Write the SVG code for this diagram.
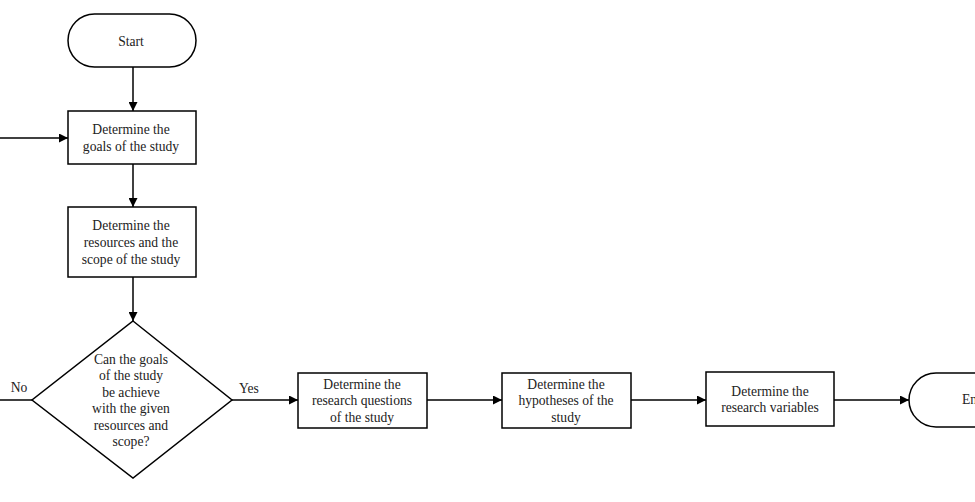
<svg xmlns="http://www.w3.org/2000/svg" width="975" height="502" viewBox="0 0 975 502">
<style>
.shape{fill:#fff;stroke:#000;stroke-width:1.5}
.t{font-family:"Liberation Serif","Times New Roman",serif;font-size:13.6px;fill:#222;text-anchor:middle}
.c{fill:none;stroke:#000;stroke-width:1.5}
</style>
<defs>
<marker id="ah" viewBox="0 0 10 10" refX="10" refY="5" markerWidth="10" markerHeight="9" markerUnits="userSpaceOnUse" orient="auto">
<path d="M0,0 L10,5 L0,10 z" fill="#000"/>
</marker>
</defs>
<rect width="975" height="502" fill="#fff"/>
<g id="connectors">
<line class="c" x1="133" y1="67" x2="133" y2="111" marker-end="url(#ah)"/>
<line class="c" x1="0" y1="138" x2="68" y2="138" marker-end="url(#ah)"/>
<line class="c" x1="133" y1="164" x2="133" y2="207" marker-end="url(#ah)"/>
<line class="c" x1="133" y1="277" x2="133" y2="321" marker-end="url(#ah)"/>
<line class="c" x1="32" y1="400" x2="0" y2="400"/>
<line class="c" x1="232" y1="400" x2="298" y2="400" marker-end="url(#ah)"/>
<line class="c" x1="427" y1="400" x2="502" y2="400" marker-end="url(#ah)"/>
<line class="c" x1="631" y1="400" x2="706" y2="400" marker-end="url(#ah)"/>
<line class="c" x1="834" y1="400" x2="909" y2="400" marker-end="url(#ah)"/>
<text class="t" x="19" y="392">No</text>
<text class="t" x="249" y="393">Yes</text>
</g>
<g id="start">
<rect class="shape" x="68" y="14" width="128" height="53" rx="26.5" ry="26.5"/>
<text class="t" x="131" y="46">Start</text>
</g>
<g id="goals">
<rect class="shape" x="68" y="111" width="128" height="53"/>
<text class="t" x="131" y="134">Determine the</text>
<text class="t" x="131" y="151">goals of the study</text>
</g>
<g id="resources">
<rect class="shape" x="68" y="207" width="128" height="70"/>
<text class="t" x="131" y="230">Determine the</text>
<text class="t" x="131" y="247">resources  and the</text>
<text class="t" x="131" y="264">scope of the study</text>
</g>
<g id="decision">
<polygon class="shape" points="133,321 232,400 133,478 32,400"/>
<text class="t" x="131" y="364">Can the goals</text>
<text class="t" x="131" y="380">of the study</text>
<text class="t" x="131" y="397">be achieve</text>
<text class="t" x="131" y="413">with the given</text>
<text class="t" x="131" y="430">resources  and</text>
<text class="t" x="131" y="446">scope?</text>
</g>
<g id="questions">
<rect class="shape" x="298" y="373" width="129" height="55"/>
<text class="t" x="362" y="389">Determine the</text>
<text class="t" x="362" y="405">research  questions</text>
<text class="t" x="362" y="422">of the study</text>
</g>
<g id="hypotheses">
<rect class="shape" x="502" y="373" width="129" height="55"/>
<text class="t" x="566" y="389">Determine the</text>
<text class="t" x="566" y="405">hypotheses of the</text>
<text class="t" x="566" y="422">study</text>
</g>
<g id="variables">
<rect class="shape" x="706" y="372" width="128" height="54"/>
<text class="t" x="770" y="396">Determine the</text>
<text class="t" x="770" y="412">research  variables</text>
</g>
<g id="end">
<rect class="shape" x="909" y="373" width="128" height="54" rx="27" ry="27"/>
<text class="t" x="973" y="404">End</text>
</g>
</svg>
